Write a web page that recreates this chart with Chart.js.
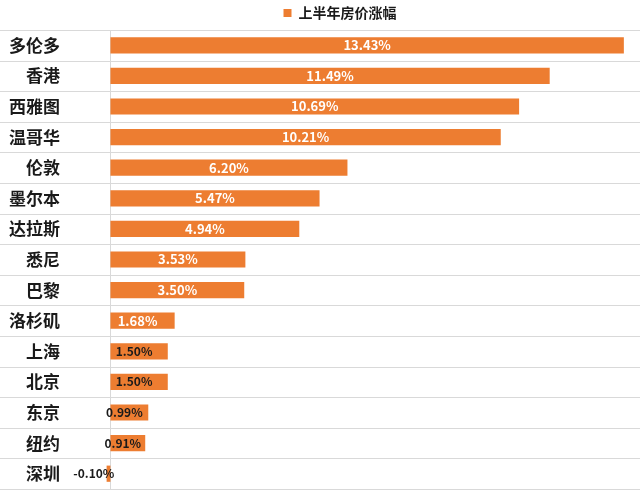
<!DOCTYPE html>
<html>
<head>
<meta charset="utf-8">
<script src="https://cdn.jsdelivr.net/npm/chart.js@4/dist/chart.umd.min.js"></script>
<style>
html,body{margin:0;padding:0;background:#fff;overflow:hidden;}
canvas{display:block;}
</style>
</head>
<body>
<canvas id="c" width="640" height="498" style="width:640px;height:498px;"></canvas>
<script>
const categories = ['多伦多','香港','西雅图','温哥华','伦敦','墨尔本','达拉斯','悉尼','巴黎','洛杉矶','上海','北京','东京','纽约','深圳'];
const values = [13.43, 11.49, 10.69, 10.21, 6.20, 5.47, 4.94, 3.53, 3.50, 1.68, 1.50, 1.50, 0.99, 0.91, -0.10];
const seriesName = '上半年房价涨幅';

const FONT = '"Noto Sans CJK SC", "Noto Sans", sans-serif';

const gridPlugin = {
  id: 'gridPlugin',
  beforeDatasetsDraw(chart) {
    const ctx = chart.ctx, y = chart.scales.y, x = chart.scales.x;
    const area = chart.chartArea;
    ctx.save();
    ctx.strokeStyle = '#d9d9d9';
    ctx.lineWidth = 1;
    for (let i = 0; i <= categories.length; i++) {
      const py = Math.round(y.getPixelForValue(i - 0.5)) + 0.5;
      ctx.beginPath();
      ctx.moveTo(0, py);
      ctx.lineTo(chart.width, py);
      ctx.stroke();
    }
    const px = Math.round(x.getPixelForValue(0)) + 0.5;
    ctx.beginPath();
    ctx.moveTo(px, area.top);
    ctx.lineTo(px, area.bottom);
    ctx.stroke();
    ctx.restore();
  }
};

const labelPlugin = {
  id: 'labelPlugin',
  afterDatasetsDraw(chart) {
    const ctx = chart.ctx;
    const meta = chart.getDatasetMeta(0);
    ctx.save();
    ctx.textBaseline = 'middle';
    meta.data.forEach((bar, i) => {
      const v = values[i];
      const txt = v.toFixed(2) + '%';
      ctx.font = 'bold ' + (v >= 1.6 ? 13 : 12) + 'px ' + FONT;
      ctx.fillStyle = v >= 1.6 ? '#ffffff' : '#1a1a1a';
      if (v < 0) {
        ctx.textAlign = 'right';
        ctx.fillText(txt, bar.base + 4, bar.y);
      } else {
        ctx.textAlign = 'center';
        ctx.fillText(txt, (bar.x + bar.base) / 2 - (v < 2 ? 5 : 0), bar.y);
      }
    });
    ctx.restore();
  }
};

new Chart(document.getElementById('c'), {
  type: 'bar',
  data: {
    labels: categories,
    datasets: [{
      label: seriesName,
      data: values,
      backgroundColor: '#ED7D31',
      borderWidth: 0,
      barPercentage: 0.53,
      categoryPercentage: 1.0
    }]
  },
  options: {
    indexAxis: 'y',
    responsive: false,
    animation: false,
    devicePixelRatio: 1,
    layout: { padding: { left: 42, right: 2, top: 0, bottom: 9 } },
    plugins: {
      legend: {
        display: true,
        position: 'top',
        labels: {
          boxWidth: 8,
          boxHeight: 8,
          padding: 6,
          color: '#1a1a1a',
          font: { family: FONT, size: 14, weight: 'bold' }
        }
      },
      tooltip: { enabled: false }
    },
    scales: {
      x: {
        display: false,
        min: -1.79,
        max: 13.8
      },
      y: {
        grid: { display: false, drawTicks: false },
        border: { display: false },
        ticks: {
          mirror: true,
          crossAlign: 'far',
          padding: -33,
          color: '#1a1a1a',
          font: { family: FONT, size: 17, weight: 'bold' }
        },
        afterFit(scale) { scale.width = 0; }
      }
    }
  },
  plugins: [gridPlugin, labelPlugin]
});
</script>
</body>
</html>
